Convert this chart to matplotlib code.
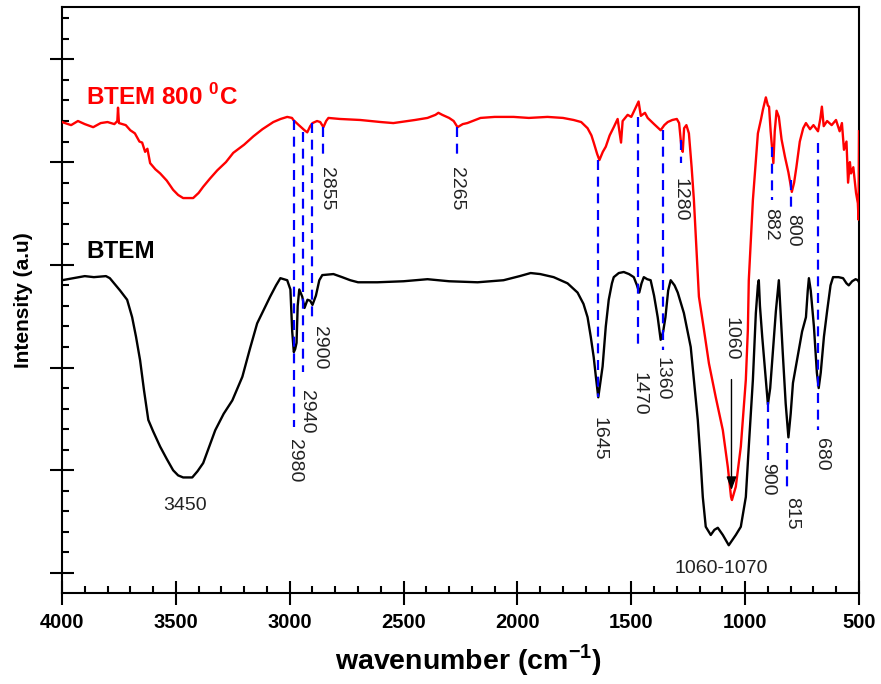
import matplotlib
matplotlib.use("Agg")
import matplotlib.pyplot as plt
from matplotlib.ticker import MultipleLocator, NullFormatter

plt.rcParams['font.family'] = ['Liberation Sans', 'DejaVu Sans']
plt.rcParams['mathtext.fontset'] = 'custom'
plt.rcParams['mathtext.rm'] = 'Liberation Sans'
plt.rcParams['mathtext.bf'] = 'Liberation Sans:bold'

# ==========================
# Spectra (wavenumber, a.u.)
# ==========================

btem_wn = [4000, 3950, 3900, 3860, 3807, 3790, 3775, 3745, 3714, 3692, 3675, 3657,
           3640, 3621, 3600, 3569, 3540, 3512, 3490, 3468, 3428, 3405, 3380, 3355,
           3327, 3290, 3252, 3208, 3175, 3143, 3110, 3086, 3060, 3041, 3011, 2997,
           2992, 2989, 2982, 2976, 2970, 2965, 2958, 2945, 2935, 2922, 2910, 2900,
           2885, 2870, 2857, 2808, 2770, 2734, 2700, 2615, 2500, 2395, 2300, 2175,
           2061, 1990, 1942, 1900, 1841, 1780, 1736, 1710, 1692, 1678, 1665, 1655,
           1645, 1636, 1626, 1612, 1599, 1585, 1577, 1555, 1533, 1510, 1489, 1475,
           1465, 1455, 1445, 1430, 1415, 1400, 1384, 1371, 1360, 1350, 1338, 1327,
           1310, 1296, 1269, 1239, 1225, 1208, 1195, 1186, 1173, 1151, 1135, 1120,
           1098, 1072, 1041, 1019, 997, 984, 966, 953, 944, 940, 935, 925,
           910, 900, 890, 880, 865, 852, 846, 835, 822, 810, 800, 790,
           770, 750, 733, 725, 720, 712, 698, 685, 677, 668, 654, 640,
           625, 614, 590, 570, 555, 545, 530, 515, 505, 500]
btem_int = [2.85, 2.87, 2.89, 2.88, 2.89, 2.87, 2.83, 2.75, 2.66, 2.49, 2.30, 2.07,
            1.78, 1.49, 1.38, 1.23, 1.11, 1.00, 0.95, 0.93, 0.93, 0.99, 1.07, 1.22,
            1.39, 1.55, 1.68, 1.91, 2.18, 2.43, 2.58, 2.69, 2.80, 2.87, 2.85, 2.76,
            2.50, 2.35, 2.15, 2.18, 2.24, 2.60, 2.76, 2.69, 2.58, 2.66, 2.65, 2.61,
            2.70, 2.85, 2.90, 2.91, 2.88, 2.85, 2.83, 2.83, 2.84, 2.86, 2.84, 2.83,
            2.85, 2.89, 2.92, 2.91, 2.88, 2.82, 2.73, 2.62, 2.49, 2.30, 2.10, 1.90,
            1.71, 1.85, 2.01, 2.40, 2.66, 2.82, 2.88, 2.92, 2.93, 2.91, 2.88, 2.80,
            2.73, 2.82, 2.88, 2.86, 2.85, 2.70, 2.49, 2.27, 2.35, 2.49, 2.75, 2.85,
            2.80, 2.73, 2.53, 2.20, 1.88, 1.49, 1.07, 0.74, 0.45, 0.37, 0.42, 0.44,
            0.37, 0.27, 0.37, 0.45, 0.74, 1.23, 1.88, 2.53, 2.80, 2.85, 2.60, 2.30,
            1.90, 1.64, 1.80, 2.10, 2.55, 2.85, 2.60, 2.15, 1.65, 1.32, 1.55, 1.85,
            2.10, 2.35, 2.49, 2.75, 2.87, 2.75, 2.40, 1.95, 1.80, 1.95, 2.30, 2.55,
            2.80, 2.88, 2.88, 2.87, 2.82, 2.80, 2.84, 2.86, 2.85, 2.83]

btem800_wn = [4000, 3960, 3930, 3900, 3863, 3830, 3800, 3770, 3757, 3754, 3750, 3720,
              3700, 3680, 3660, 3648, 3635, 3625, 3613, 3590, 3569, 3540, 3512, 3490,
              3468, 3424, 3400, 3380, 3350, 3318, 3280, 3248, 3200, 3160, 3120, 3072,
              3040, 3011, 2990, 2984, 2960, 2935, 2923, 2910, 2900, 2880, 2866, 2852,
              2840, 2830, 2780, 2690, 2600, 2545, 2450, 2395, 2360, 2347, 2330, 2300,
              2280, 2263, 2240, 2220, 2162, 2100, 2017, 1950, 1868, 1800, 1753, 1720,
              1692, 1675, 1665, 1650, 1640, 1625, 1612, 1595, 1577, 1560, 1545, 1538,
              1516, 1500, 1485, 1468, 1458, 1440, 1428, 1400, 1371, 1355, 1340, 1320,
              1300, 1290, 1280, 1274, 1268, 1258, 1247, 1235, 1225, 1215, 1203, 1181,
              1159, 1129, 1098, 1076, 1062, 1058, 1041, 1019, 997, 988, 984, 966,
              944, 930, 922, 909, 900, 895, 888, 876, 870, 862, 852, 840,
              825, 810, 795, 785, 775, 760, 745, 733, 715, 700, 680, 670,
              663, 655, 640, 620, 601, 585, 575, 566, 555, 548, 540, 535,
              525, 513, 505, 502, 500]
btem800_int = [4.39, 4.36, 4.40, 4.37, 4.34, 4.38, 4.39, 4.37, 4.40, 4.53, 4.38, 4.36,
               4.31, 4.28, 4.20, 4.19, 4.10, 4.13, 3.99, 3.93, 3.89, 3.82, 3.73, 3.68,
               3.65, 3.65, 3.70, 3.76, 3.84, 3.92, 4.00, 4.09, 4.17, 4.25, 4.32, 4.39,
               4.42, 4.44, 4.43, 4.41, 4.36, 4.31, 4.29, 4.35, 4.38, 4.40, 4.39, 4.34,
               4.40, 4.43, 4.42, 4.41, 4.39, 4.38, 4.41, 4.43, 4.46, 4.48, 4.46, 4.43,
               4.40, 4.34, 4.37, 4.38, 4.43, 4.44, 4.44, 4.43, 4.44, 4.43, 4.41, 4.39,
               4.33, 4.26, 4.19, 4.08, 4.02, 4.10, 4.15, 4.26, 4.34, 4.42, 4.19, 4.40,
               4.46, 4.44, 4.51, 4.59, 4.45, 4.48, 4.43, 4.37, 4.31, 4.36, 4.39, 4.41,
               4.42, 4.38, 4.15, 4.10, 4.33, 4.36, 4.28, 3.95, 3.63, 3.20, 2.69, 2.37,
               2.04, 1.71, 1.39, 1.03, 0.74, 0.71, 0.84, 1.23, 1.88, 2.37, 2.85, 3.63,
               4.28, 4.42, 4.51, 4.63, 4.55, 4.54, 4.30, 3.99, 4.30, 4.50, 4.44, 4.22,
               4.05, 3.90, 3.71, 3.80, 3.95, 4.20, 4.33, 4.38, 4.32, 4.36, 4.30, 4.42,
               4.54, 4.35, 4.40, 4.36, 4.41, 4.30, 4.38, 4.12, 4.20, 3.80, 4.00, 3.89,
               3.95, 3.70, 3.60, 3.44, 4.30]

# ==========================
# Band assignments
# ==========================

band_labels = ['2980', '2940', '2900', '2855', '2265', '1645', '1470',
               '1360', '1280', '882', '800', '900', '815', '680']
band_pos = [2980, 2940, 2900, 2855, 2265, 1645, 1470, 1360, 1280, 882, 800, 900, 815, 680]
band_top = [4.41, 4.29, 4.38, 4.34, 4.34, 4.02, 4.44, 4.31, 4.22, 4.15, 3.83, 1.66, 1.27, 4.19]
band_bottom = [1.42, 1.96, 2.44, 4.05, 4.05, 1.71, 2.17, 2.17, 3.99, 3.63, 3.51, 1.10, 0.78, 1.39]
label_pos = [2980, 2925, 2868, 2838, 2268, 1643, 1467, 1364, 1287, 887, 790, 900, 797, 665]
label_top = [1.30, 1.78, 2.40, 3.95, 3.95, 1.52, 1.96, 2.10, 3.85, 3.55, 3.49, 1.07, 0.74, 1.31]

# ==========================
# Plot
# ==========================

fig = plt.figure(figsize=(8.81, 6.84), dpi=100)
ax = fig.add_axes([62 / 881, 1 - 593 / 684, 797 / 881, 586 / 684])

ax.plot(btem800_wn, btem800_int, color='#ff0000', lw=1.7, zorder=3)
ax.plot(btem_wn, btem_int, color='black', lw=1.7, zorder=3)

for pos, top, bot in zip(band_pos, band_top, band_bottom):
    ax.plot([pos, pos], [top, bot], color='#0000ff', lw=1.6,
            linestyle=(0, (4.5, 3)), zorder=4)

for lab, pos, top in zip(band_labels, label_pos, label_top):
    ax.text(pos, top, lab, rotation=-90, ha='center', va='top',
            fontsize=14, color='#222222')

ax.text(3460, 0.66, '3450', ha='center', va='center', fontsize=14, color='#222222')
ax.text(1107, 0.04, '1060-1070', ha='center', va='center', fontsize=14, color='#222222')
ax.text(1062, 2.49, '1060', rotation=-90, ha='center', va='top', fontsize=14, color='#222222')
ax.annotate('', xy=(1060, 0.78), xytext=(1060, 1.91),
            arrowprops=dict(arrowstyle='-|>,head_length=0.8,head_width=0.3',
                            color='black', lw=1.0))

ax.text(3895, 4.63, r'BTEM 800 $^\mathbf{0}$C', color='#ff0000', fontsize=17.5,
        fontweight='bold', ha='left', va='center')
ax.text(3895, 3.13, 'BTEM', color='black', fontsize=17.5,
        fontweight='bold', ha='left', va='center')

ax.set_xlim(4000, 500)
ax.set_ylim(-0.195, 5.51)

ax.xaxis.set_major_locator(MultipleLocator(500))
ax.xaxis.set_minor_locator(MultipleLocator(100))
ax.yaxis.set_major_locator(MultipleLocator(1))
ax.yaxis.set_minor_locator(MultipleLocator(0.2))
ax.yaxis.set_major_formatter(NullFormatter())

ax.tick_params(which='major', direction='inout', length=17, width=1.5)
ax.tick_params(which='minor', direction='in', length=5, width=1.5)
ax.tick_params(axis='x', which='major', pad=6, labelsize=14.5)
for lab in ax.get_xticklabels():
    lab.set_fontweight('bold')

for sp in ax.spines.values():
    sp.set_linewidth(1.5)

ax.set_xlabel('wavenumber (cm$^\\mathbf{-1}$)', fontsize=20.5, fontweight='bold')
ax.set_ylabel('Intensity (a.u)', fontsize=15, fontweight='bold')
ax.xaxis.set_label_coords(0.51, -0.083)
ax.yaxis.set_label_coords(-0.036, 0.5)

plt.savefig('out.png', dpi=100)
